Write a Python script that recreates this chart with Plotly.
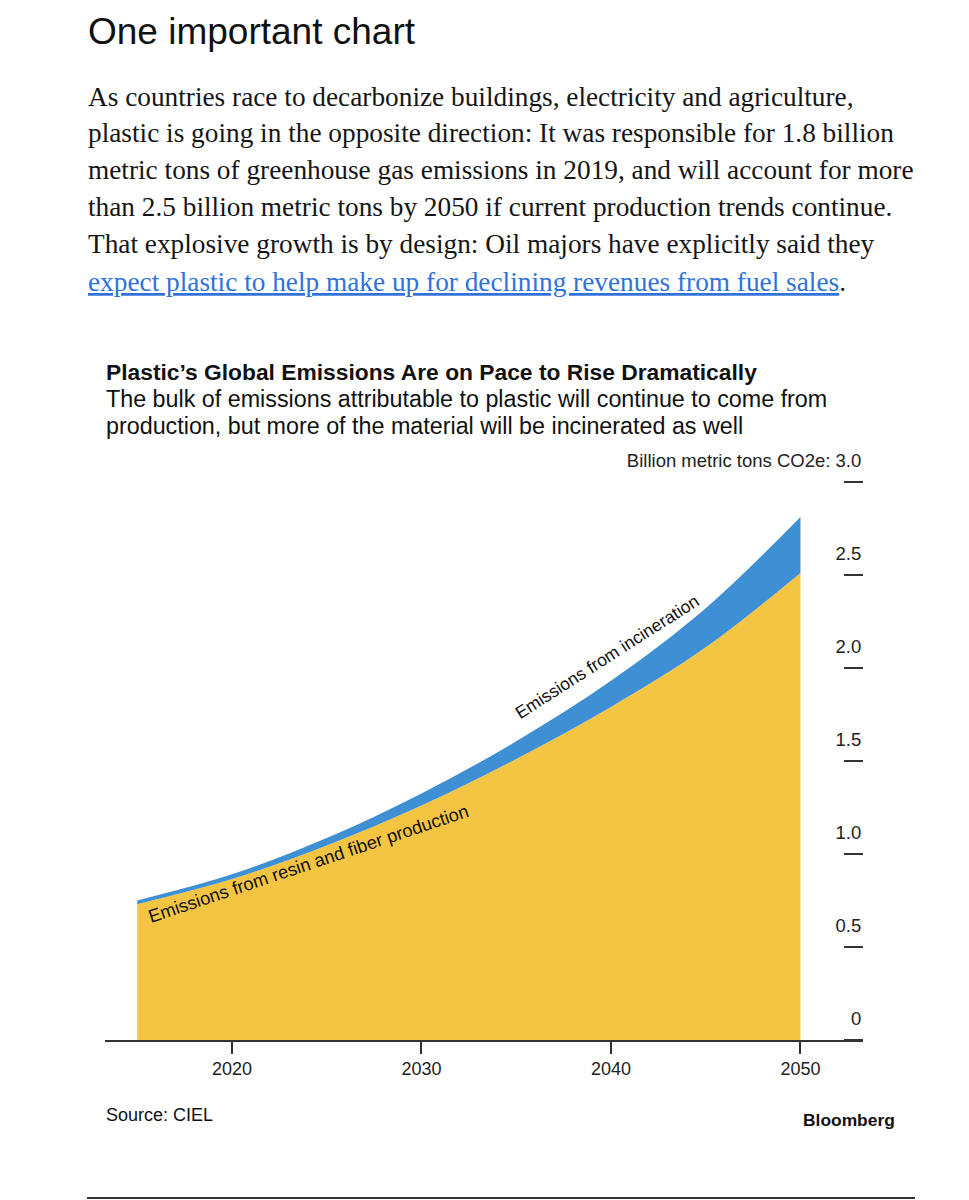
import plotly.graph_objects as go

# ---- data ----
years = [2015, 2020, 2025, 2030, 2035, 2040, 2045, 2050]
production = [0.73, 0.865, 1.045, 1.26, 1.51, 1.79, 2.11, 2.51]
incineration = [0.02, 0.025, 0.04, 0.065, 0.095, 0.14, 0.21, 0.30]
x_ticks = [2020, 2030, 2040, 2050]
y_ticks = [0, 0.5, 1.0, 1.5, 2.0, 2.5, 3.0]
y_ticktext = ["0", "0.5", "1.0", "1.5", "2.0", "2.5", "Billion metric tons CO2e: 3.0"]

W, H = 969, 1200
OFF = 8  # default page margin around the plot div

def px(x):
    return (x - OFF) / W

def py(y):
    return 1 - (y - OFF) / H

SANS = "Liberation Sans, Arial, sans-serif"
SERIF = "Liberation Serif, Times New Roman, serif"

YELLOW = "#F4C543"
BLUE = "#3F8FD4"

fig = go.Figure()
fig.add_trace(go.Scatter(x=years, y=production, stackgroup="one", mode="none",
                         fillcolor=YELLOW, line=dict(shape="spline", width=0),
                         name="Emissions from resin and fiber production",
                         hoverinfo="skip"))
fig.add_trace(go.Scatter(x=years, y=incineration, stackgroup="one", mode="none",
                         fillcolor=BLUE, line=dict(shape="spline", width=0),
                         name="Emissions from incineration", hoverinfo="skip"))

annotations = []
annotations.append(dict(text="One important chart", x=px(86), y=py(31), xref="paper", yref="paper",
                        xanchor="left", yanchor="middle", showarrow=False,
                        font=dict(family=SANS, size=37, color="#111")))
para = [
    "As countries race to decarbonize buildings, electricity and agriculture,",
    "plastic is going in the opposite direction: It was responsible for 1.8 billion",
    "metric tons of greenhouse gas emissions in 2019, and will account for more",
    "than 2.5 billion metric tons by 2050 if current production trends continue.",
    "That explosive growth is by design: Oil majors have explicitly said they",
    "<span style='color:#3072DA'><u>expect plastic to help make up for declining revenues from fuel sales</u></span>.",
]
para_y = [97, 133, 170, 207, 244, 282]
for t, yy in zip(para, para_y):
    annotations.append(dict(text=t, x=px(86), y=py(yy), xref="paper", yref="paper",
                            xanchor="left", yanchor="middle", showarrow=False,
                            font=dict(family=SERIF, size=27.3, color="#151515")))
annotations.append(dict(text="<b>Plastic’s Global Emissions Are on Pace to Rise Dramatically</b>",
                        x=px(104), y=py(372), xref="paper", yref="paper",
                        xanchor="left", yanchor="middle", showarrow=False,
                        font=dict(family=SANS, size=22.8, color="#111")))
for t, yy in [("The bulk of emissions attributable to plastic will continue to come from", 399),
              ("production, but more of the material will be incinerated as well", 426)]:
    annotations.append(dict(text=t, x=px(104), y=py(yy), xref="paper", yref="paper",
                            xanchor="left", yanchor="middle", showarrow=False,
                            font=dict(family=SANS, size=23.3, color="#111")))
annotations.append(dict(text="Emissions from resin and fiber production", x=2024.03, y=0.951,
                        xref="x", yref="y", showarrow=False, textangle=-18.5,
                        font=dict(family=SANS, size=18.3, color="#111")))
annotations.append(dict(text="Emissions from incineration", x=2039.77, y=2.059,
                        xref="x", yref="y", showarrow=False, textangle=-32.6,
                        font=dict(family=SANS, size=17.5, color="#111")))
annotations.append(dict(text="Source: CIEL", x=px(104), y=py(1115), xref="paper", yref="paper",
                        xanchor="left", yanchor="middle", showarrow=False,
                        font=dict(family=SANS, size=18, color="#111")))
annotations.append(dict(text="<b>Bloomberg</b>", x=px(897), y=py(1120), xref="paper", yref="paper",
                        xanchor="right", yanchor="middle", showarrow=False,
                        font=dict(family=SANS, size=17.4, color="#111")))

fig.update_layout(
    width=W, height=H,
    margin=dict(l=0, r=0, t=0, b=0, autoexpand=False),
    paper_bgcolor="white", plot_bgcolor="white",
    showlegend=False,
    annotations=annotations,
    shapes=[dict(type="line", xref="paper", yref="paper", x0=px(87), x1=px(915),
                 y0=py(1198), y1=py(1198), line=dict(color="#333", width=2))],
    xaxis=dict(domain=[px(105), px(863)], range=[2013.3, 2053.3], automargin=False,
               tickvals=x_ticks, ticks="outside", ticklen=12, tickwidth=1.5, tickcolor="#333",
               showline=True, linecolor="#333", linewidth=1.5, showgrid=False, zeroline=False,
               tickfont=dict(family=SANS, size=18, color="#222")),
    yaxis=dict(domain=[py(1040), py(481.7)], range=[0, 3.0], side="left", automargin=False,
               anchor="free", position=px(863),
               tickvals=y_ticks, ticktext=y_ticktext, ticks="outside", ticklen=19, tickwidth=1.5,
               tickcolor="#333", ticklabelshift=-21, ticklabelstandoff=-21,
               showline=False, showgrid=False, zeroline=False,
               tickfont=dict(family=SANS, size=18.5, color="#222")),
)

fig.write_html("out.html")
